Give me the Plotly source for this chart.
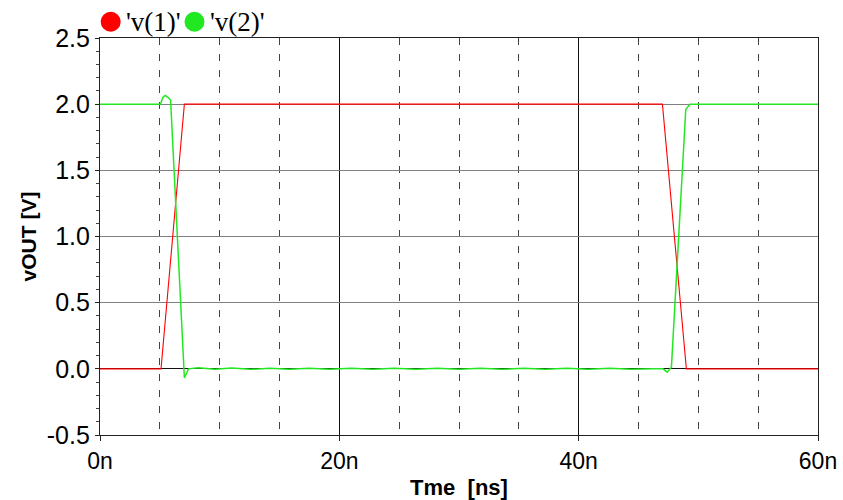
import plotly.graph_objects as go

# Transient simulation: input pulse v(1) and inverter output v(2), time in ns
series_names = ["'v(1)'", "'v(2)'"]
series_colors = ["#ff0000", "#22e822"]

v1_time = [0.0, 5.1, 7.05, 47.0, 49.0, 60.0]
v1_volt = [0.0, 0.0, 2.0, 2.0, 0.0, 0.0]

v2_time = [0.0, 5.05, 5.25, 5.45, 5.7, 5.9, 7.05, 7.4, 8.2, 9.6, 11.0, 12.6, 14.2, 15.8,
           17.5, 19.2, 21.0, 22.8, 24.6, 26.4, 28.2, 30.0, 31.8, 33.6, 35.4, 37.2,
           39.0, 40.8, 42.6, 44.4, 46.2, 47.05, 47.4, 47.75, 48.95, 49.3, 60.0]
v2_volt = [2.0, 2.0, 2.05, 2.066, 2.05, 2.03, -0.068, 0.0, 0.008, -0.004, 0.006, -0.004,
           0.005, -0.003, 0.005, -0.004, 0.004, -0.003, 0.004, -0.003, 0.004, -0.003,
           0.004, -0.003, 0.004, -0.003, 0.004, -0.003, 0.004, -0.003, 0.0, 0.0,
           -0.025, 0.012, 1.96, 2.0, 2.0]

x_tickvals = [0, 20, 40, 60]
x_ticktext = ["0n", "20n", "40n", "60n"]
y_tickvals = [-0.5, 0.0, 0.5, 1.0, 1.5, 2.0, 2.5]
y_ticktext = ["-0.5", "0.0", "0.5", "1.0", "1.5", "2.0", "2.5"]

fig = go.Figure()
fig.add_trace(go.Scatter(x=v1_time, y=v1_volt, mode="lines", name=series_names[0],
                         line=dict(color=series_colors[0], width=1.1), showlegend=False))
fig.add_trace(go.Scatter(x=v2_time, y=v2_volt, mode="lines", name=series_names[1],
                         line=dict(color=series_colors[1], width=1.5), showlegend=False))

# Legend: filled circles followed by serif labels, above the plot area
legend_x = [0.0149, 0.1316]
for name, color, lx in zip(series_names, series_colors, legend_x):
    fig.add_shape(type="circle", xref="paper", yref="paper",
                  xsizemode="pixel", ysizemode="pixel",
                  xanchor=lx, yanchor=1.041, x0=-10, x1=10, y0=-10, y1=10,
                  fillcolor=color, line=dict(width=0))
    fig.add_annotation(text=name, xref="paper", yref="paper", x=lx + 0.0185, y=1.041,
                       xanchor="left", yanchor="middle", showarrow=False,
                       font=dict(family="Liberation Serif", size=27, color="#000"))

fig.update_layout(
    width=843, height=500,
    margin=dict(l=100, r=25, t=38, b=65),
    plot_bgcolor="white", paper_bgcolor="white",
    font=dict(family="Liberation Sans", color="#000"),
    showlegend=False,
)
fig.update_xaxes(
    range=[0, 60], tickvals=x_tickvals, ticktext=x_ticktext, automargin=False,
    tickfont=dict(size=23), ticks="outside", ticklen=5, tickcolor="#222",
    showgrid=True, gridcolor="#111", gridwidth=1,
    minor=dict(dtick=5, showgrid=True, gridcolor="#444", griddash="7px,9px",
               gridwidth=1, ticks=""),
    showline=True, mirror=True, linecolor="#222", linewidth=1.2,
    zeroline=False,
    title=dict(text="<b>Tme\u00a0\u00a0[ns]</b>",
               font=dict(size=22, family="Liberation Sans"), standoff=8),
)
fig.update_yaxes(
    range=[-0.5, 2.5], tickvals=y_tickvals, ticktext=y_ticktext, automargin=False,
    tickfont=dict(size=25), ticks="outside", ticklen=4, tickcolor="#222",
    showgrid=True, gridcolor="#808080", gridwidth=1.3,
    minor=dict(dtick=0.1, ticks="outside", ticklen=3, tickcolor="#444", showgrid=False),
    showline=True, mirror=True, linecolor="#222", linewidth=1.2,
    zeroline=True, zerolinecolor="#111", zerolinewidth=1.2,
    title=dict(text="<b>vOUT [V]</b>", font=dict(size=21, family="Liberation Sans"),
               standoff=4),
)

fig.write_html("out.html")
